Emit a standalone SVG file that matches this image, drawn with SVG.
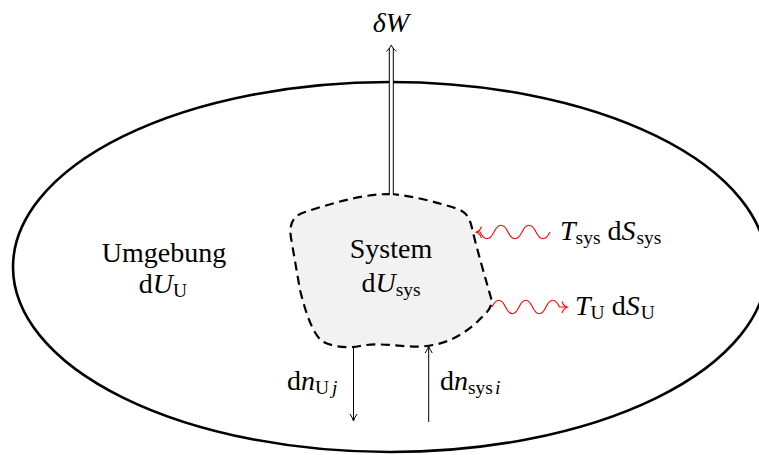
<svg xmlns="http://www.w3.org/2000/svg" width="759" height="455" viewBox="0 0 759 455">
<style>
text{font-family:"Liberation Serif","DejaVu Serif",serif;fill:#000;}
.lbl{font-size:28px;}
.it{font-style:italic;}
.sub{font-size:19.5px;font-style:normal;}
.subi{font-size:19.5px;font-style:italic;}
.thin{fill:none;stroke:#000;stroke-width:1;}
.wave{fill:none;stroke:#ff0000;stroke-width:1.1;}
</style>
<rect width="759" height="455" fill="#fff"/>
<g id="umgebung">
<ellipse cx="390" cy="267" rx="377" ry="185" fill="none" stroke="#000" stroke-width="2.6"/>
<text class="lbl" x="164" y="262" text-anchor="middle">Umgebung</text>
<text class="lbl" x="163" y="293" text-anchor="middle">d<tspan class="it">U</tspan><tspan class="sub" dy="4">U</tspan></text>
</g>
<g id="system">
<path d="M390,194 C410,195 440,203 458,209 C468,213 470,220 472,228 C477,250 486,280 491,298 C493,306 488,312 481,318 C470,330 452,342 433,345 C410,350 385,341 360,346 C345,349 330,346 322,341 C312,333 305,310 300,290 L291,238 C289,225 292,216 305,212 C333,203 362,194 390,194 Z" fill="#f2f2f2" stroke="#000" stroke-width="2.2" stroke-dasharray="9 5.5"/>
<text class="lbl" x="391" y="258" text-anchor="middle">System</text>
<text class="lbl" x="391" y="292" text-anchor="middle">d<tspan class="it">U</tspan><tspan class="sub" dy="4">sys</tspan></text>
</g>
<g id="connectors">
<g id="work">
<line x1="391.3" y1="195" x2="391.3" y2="48" stroke="#000" stroke-width="5"/>
<line x1="391.3" y1="196" x2="391.3" y2="47" stroke="#fff" stroke-width="3"/>
<path class="thin" d="M386.3,51.5 C388.5,49.5 390.3,47.5 391.3,45 C392.3,47.5 394.1,49.5 396.3,51.5" stroke-width="0.9"/>
</g>
<g id="heat-in">
<path class="wave" d="M550,232 c-4.5,9 -9.5,9 -14,0 c-4.5,-9 -9.5,-9 -14,0 c-4.5,9 -9.5,9 -14,0 c-4.5,-9 -9.5,-9 -14,0 c-4.5,9 -9.5,9 -14,0 L476.5,232"/>
<path class="wave" d="M481.5,226.5 C480.5,229.5 478.5,231.5 476.3,232.2 C478.5,233 480.5,235 481.5,238"/>
</g>
<g id="heat-out">
<path class="wave" d="M492,307 c4.3,-9 9.2,-9 13.5,0 c4.3,9 9.2,9 13.5,0 c4.3,-9 9.2,-9 13.5,0 c4.3,9 9.2,9 13.5,0 c4.3,-9 9.2,-9 13.5,0 L567,307"/>
<path class="wave" d="M562,301.5 C563,304.5 565,306.5 567.2,307.2 C565,308 563,310 562,313"/>
</g>
<g id="mass-out">
<line class="thin" x1="353.5" y1="347" x2="353.5" y2="420.5"/>
<path class="thin" d="M350,414 C351.5,416.5 352.8,418.5 353.5,421 C354.2,418.5 355.5,416.5 357,414"/>
</g>
<g id="mass-in">
<line class="thin" x1="428.7" y1="422" x2="428.7" y2="347"/>
<path class="thin" d="M425.2,353 C426.7,350.5 428,348.5 428.7,346 C429.4,348.5 430.7,350.5 432.2,353"/>
</g>
</g>
<g id="labels">
<text class="lbl it" x="391" y="32" text-anchor="middle">δW</text>
<text class="lbl" x="560" y="240"><tspan class="it">T</tspan><tspan class="sub" dy="4">sys</tspan><tspan dy="-4"> d</tspan><tspan class="it">S</tspan><tspan class="sub" dx="1" dy="4">sys</tspan></text>
<text class="lbl" x="575" y="315"><tspan class="it">T</tspan><tspan class="sub" dy="4">U</tspan><tspan dy="-4"> d</tspan><tspan class="it">S</tspan><tspan class="sub" dx="1" dy="4">U</tspan></text>
<text class="lbl" x="287" y="390">d<tspan class="it">n</tspan><tspan class="sub" dy="4">U</tspan><tspan class="subi" dx="3">j</tspan></text>
<text class="lbl" x="440" y="390">d<tspan class="it">n</tspan><tspan class="sub" dy="4">sys</tspan><tspan class="subi" dx="2">i</tspan></text>
</g>
</svg>
